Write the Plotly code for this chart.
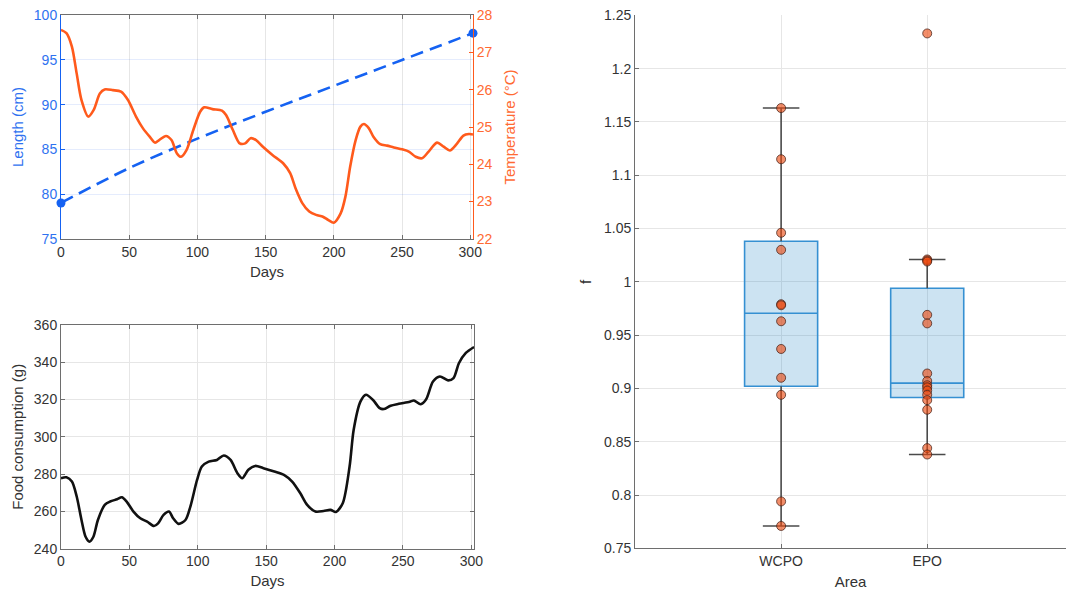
import numpy as np
import plotly.graph_objects as go

# ---------------- data ----------------
days_len = [0, 50, 100, 150, 200, 250, 302]
length_cm = [79.0, 82.9, 86.2, 89.2, 92.1, 95.0, 98.0]

days_temp = [0, 4, 8, 11.5, 15, 20, 24, 28.5, 32, 38, 44, 49, 55, 60, 65, 69, 72, 77, 81, 85,
             88, 92, 97, 102, 105, 111, 118, 121, 126, 131, 135, 139, 143, 148, 155, 163, 168,
             172, 177, 182, 187, 192, 196, 200, 205, 208.5, 212, 216, 219.5, 222, 225.6, 229,
             234, 239, 244, 250, 255, 260, 264.6, 269.5, 275.6, 280.5, 285, 290, 295, 299, 302]
temperature = [27.61, 27.52, 27.16, 26.44, 25.73, 25.28, 25.46, 25.90, 26.01, 25.99, 25.95, 25.73,
               25.28, 24.97, 24.74, 24.58, 24.65, 24.76, 24.65, 24.29, 24.20, 24.38, 24.92, 25.41,
               25.53, 25.48, 25.44, 25.32, 24.92, 24.56, 24.56, 24.70, 24.65, 24.47, 24.25, 24.02,
               23.76, 23.35, 22.95, 22.73, 22.64, 22.59, 22.50, 22.43, 22.68, 23.13, 23.94, 24.65,
               25.01, 25.08, 24.97, 24.74, 24.54, 24.50, 24.45, 24.40, 24.34, 24.20, 24.16, 24.34,
               24.58, 24.47, 24.37, 24.54, 24.77, 24.81, 24.80]

days_food = [0, 4, 8, 11.5, 15, 18, 20.8, 23.7, 27, 32, 36, 41, 44.5, 48, 53, 58, 63, 68, 71, 75,
             79, 82, 86, 91, 94.6, 99.5, 103, 108, 114, 119, 124, 129, 132.5, 137, 142, 148, 156,
             163, 169, 175, 180, 186, 192, 197, 201, 206, 211, 214, 219, 223, 228, 233, 236, 241,
             247, 255, 258, 263, 267, 272, 277, 283, 287, 291, 296, 302]
food_g = [277.8, 278.3, 276, 268, 255.4, 246.4, 243.8, 246.4, 255.4, 263.5, 265.3, 266.5, 267.6,
          265.3, 259.9, 256.3, 254.5, 252.2, 253.6, 258.1, 259.9, 256.3, 253.3, 255.4, 262.6,
          276.9, 284.1, 286.7, 287.6, 290, 287.6, 280.5, 277.8, 282.3, 284.4, 283.2, 281.4, 279.6,
          276, 269.7, 263.5, 259.9, 260.2, 260.8, 259.7, 264.4, 284.1, 303.8, 319, 322.6, 319.9,
          315.4, 314.9, 316.7, 317.7, 318.8, 319.5, 317.5, 320.2, 329.7, 332.4, 330.3, 331.5,
          339.6, 345, 348.2]

areas = ["WCPO", "EPO"]
f_wcpo = [1.163, 1.115, 1.046, 1.030, 0.979, 0.978, 0.963, 0.937, 0.910, 0.894, 0.794, 0.771]
f_epo = [1.233, 1.021, 1.020, 1.019, 0.969, 0.961, 0.914, 0.907, 0.903, 0.901, 0.898, 0.894,
         0.889, 0.880, 0.844, 0.838]

# ---------------- styles ----------------
FONT = "Liberation Sans, Arial, Helvetica, sans-serif"
BLUE = "#1562F2"
BLUE_TXT = "#2F72F0"
ORANGE = "#FF5A1C"
ORANGE_TXT = "#FF6A33"
DARK = "#333333"
AXLINE = "#6E6E6E"
GRID = "#E6E6E6"
BOX_LINE = "#3590D2"
BOX_FILL = "rgba(0,114,189,0.2)"
WHISK = "#4A4A4A"
TICK_SIZE = 14
TITLE_SIZE = 15


def box_stats(vals):
    s = np.sort(np.asarray(vals, dtype=float))
    n = len(s)
    med = np.median(s)
    lower = s[: n // 2]
    upper = s[(n + 1) // 2:]
    q1, q3 = np.median(lower), np.median(upper)
    iqr = q3 - q1
    lo = s[s >= q1 - 1.5 * iqr].min()
    hi = s[s <= q3 + 1.5 * iqr].max()
    return q1, med, q3, lo, hi


fig = go.Figure()

# ---- top-left panel ----
fig.add_trace(go.Scatter(x=days_temp, y=temperature, mode="lines",
                         line=dict(color=ORANGE, width=2.6, shape="spline", smoothing=0.8),
                         xaxis="x", yaxis="y2", showlegend=False))
fig.add_trace(go.Scatter(x=days_len, y=length_cm, mode="lines",
                         line=dict(color=BLUE, width=2.6, dash="13px,7px", shape="spline"),
                         xaxis="x", yaxis="y", showlegend=False))
fig.add_trace(go.Scatter(x=[days_len[0], days_len[-1]], y=[length_cm[0], length_cm[-1]],
                         mode="markers", marker=dict(color=BLUE, size=9),
                         xaxis="x", yaxis="y", showlegend=False, cliponaxis=False))

# ---- bottom-left panel ----
fig.add_trace(go.Scatter(x=days_food, y=food_g, mode="lines",
                         line=dict(color="#111111", width=2.6, shape="spline", smoothing=0.8),
                         xaxis="x2", yaxis="y3", showlegend=False))

# ---- right panel: boxes ----
for i, (name, vals) in enumerate(zip(areas, [f_wcpo, f_epo])):
    xc = i + 1
    q1, med, q3, lo, hi = box_stats(vals)
    fig.add_trace(go.Box(x=[xc], q1=[q1], median=[med], q3=[q3], lowerfence=[q1], upperfence=[q3],
                         width=0.5, whiskerwidth=0, fillcolor=BOX_FILL,
                         line=dict(color=BOX_LINE, width=1.6), boxpoints=False,
                         xaxis="x3", yaxis="y4", showlegend=False, hoverinfo="skip"))
    cw = 0.125
    fig.add_trace(go.Scatter(
        x=[xc, xc, None, xc, xc, None, xc - cw, xc + cw, None, xc - cw, xc + cw],
        y=[lo, q1, None, q3, hi, None, lo, lo, None, hi, hi],
        mode="lines", line=dict(color=WHISK, width=1.6),
        xaxis="x3", yaxis="y4", showlegend=False, hoverinfo="skip"))
    fig.add_trace(go.Scatter(
        x=[xc] * len(vals), y=vals, mode="markers",
        marker=dict(color="rgba(236,72,14,0.62)", size=9,
                    line=dict(color="rgba(70,35,25,0.75)", width=1)),
        xaxis="x3", yaxis="y4", showlegend=False))

tickfont = dict(family=FONT, size=TICK_SIZE, color=DARK)
titlefont = dict(family=FONT, size=TITLE_SIZE, color=DARK)

common_x = dict(showgrid=True, gridcolor=GRID, gridwidth=1, zeroline=False, automargin=False,
                showline=True, linecolor=AXLINE, linewidth=1, ticks="inside", ticklen=4,
                tickcolor=AXLINE, tickfont=tickfont, mirror="ticks")

fig.update_layout(
    width=1066, height=591,
    margin=dict(l=0, r=0, t=0, b=0, autoexpand=False),
    paper_bgcolor="white", plot_bgcolor="white",
    font=dict(family=FONT, color=DARK),
    xaxis=dict(domain=[0.0572, 0.4437], anchor="y", range=[0, 302], tickmode="linear",
               tick0=0, dtick=50, title=dict(text="Days", font=titlefont, standoff=7),
               **common_x),
    yaxis=dict(domain=[0.5961, 0.9741], anchor="x", range=[75, 100], tickmode="linear",
               tick0=75, dtick=5, showgrid=True, gridcolor="rgba(40,100,240,0.12)", zeroline=False,
               automargin=False,
               showline=True, linecolor=BLUE, linewidth=1, ticks="inside", ticklen=4,
               tickcolor=BLUE, tickfont=dict(family=FONT, size=TICK_SIZE, color=BLUE_TXT),
               title=dict(text="Length (cm)", font=dict(family=FONT, size=TITLE_SIZE, color=BLUE_TXT),
                          standoff=6)),
    yaxis2=dict(overlaying="y", side="right", anchor="x", range=[22, 28], tickmode="linear",
                tick0=22, dtick=1, showgrid=False, zeroline=False, showline=True, automargin=False,
                linecolor=ORANGE, linewidth=1, ticks="inside", ticklen=4, tickcolor=ORANGE,
                tickfont=dict(family=FONT, size=TICK_SIZE, color=ORANGE_TXT),
                title=dict(text="Temperature (°C)", font=dict(family=FONT, size=TITLE_SIZE, color=ORANGE_TXT),
                           standoff=12)),
    xaxis2=dict(domain=[0.0572, 0.4447], anchor="y3", range=[0, 302], tickmode="linear",
                tick0=0, dtick=50, title=dict(text="Days", font=titlefont, standoff=7),
                **common_x),
    yaxis3=dict(domain=[0.0716, 0.4501], anchor="x2", range=[240, 360], tickmode="linear",
                tick0=240, dtick=20, title=dict(text="Food consumption (g)", font=titlefont, standoff=6),
                **common_x),
    xaxis3=dict(domain=[0.5957, 1.0], anchor="y4", range=[0, 2.95], tickmode="array",
                tickvals=[1, 2], ticktext=areas, showgrid=True, gridcolor=GRID, zeroline=False,
                automargin=False,
                showline=True, linecolor=AXLINE, linewidth=1, ticks="inside", ticklen=4,
                tickcolor=AXLINE, tickfont=tickfont,
                title=dict(text="Area", font=titlefont, standoff=8)),
    yaxis4=dict(domain=[0.0722, 0.9741], anchor="x3", range=[0.75, 1.25], tickmode="linear",
                tick0=0.75, dtick=0.05, showgrid=True, gridcolor=GRID, zeroline=False,
                automargin=False,
                showline=True, linecolor=AXLINE, linewidth=1, ticks="inside", ticklen=4,
                tickcolor=AXLINE, tickfont=tickfont,
                title=dict(text="f", font=titlefont, standoff=8)),
)

fig.write_html("out.html")
